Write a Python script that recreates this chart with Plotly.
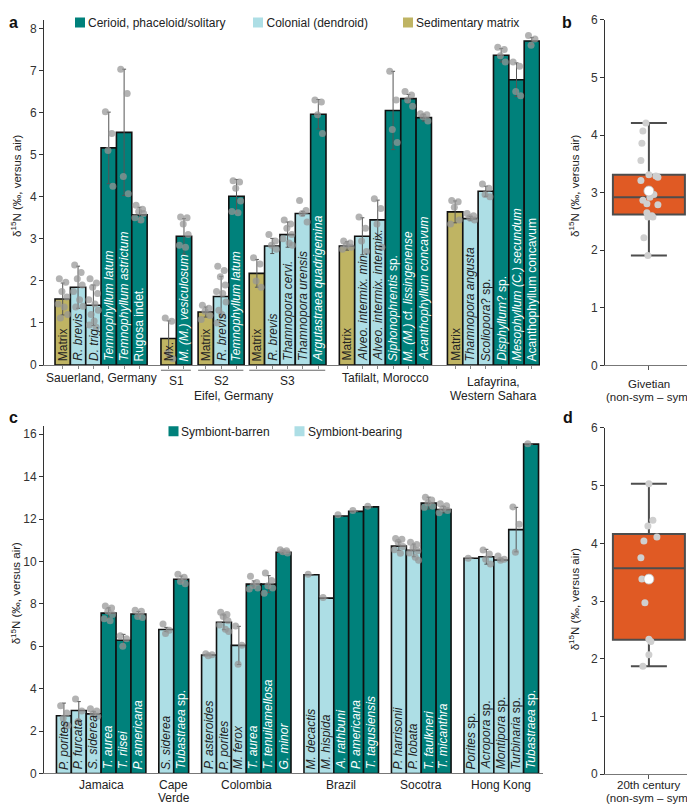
import plotly.graph_objects as go

# screen is 695x804; the page body adds an 8 px margin, so the figure is sized to the visible area
SCREEN_W, SCREEN_H, OFF = 695, 804, 8
W, H = SCREEN_W - OFF, SCREEN_H - OFF
FONT = "Liberation Sans, Arial, sans-serif"

# ---------------- Panel a data (Givetian corals) ----------------
a_groups = (["Sauerland, Germany"] * 6 + ["S1"] * 2 + ["S2"] * 3 + ["S3"] * 5
            + ["Tafilalt, Morocco"] * 6 + ["Lafayrina,<br>Western Sahara"] * 6)
a_labels = [
    "Matrix", "<i>R. brevis</i>", "<i>D. trig.</i>", "<i>Temnophyllum latum</i>",
    "<i>Temnophyllum astrictum</i>", "Rugosa indet.",
    "Mx.", "<i>M. (M.) vesiculosum</i>",
    "Matrix", "<i>R. brevis</i>", "<i>Temnophyllum latum</i>",
    "Matrix", "<i>R. brevis</i>", "<i>Thamnopora cervi.</i>", "<i>Thamnopora urensis</i>",
    "<i>Argutastraea quadrigemina</i>",
    "Matrix", "<i>Alveo. intermix. min.</i>", "<i>Alveo. intermix. intermix.</i>",
    "<i>Siphonophrentis</i> sp.", "<i>M. (M.)</i> cf. <i>lissingenense</i>", "<i>Acanthophyllum concavum</i>",
    "Matrix", "<i>Thamnopora angusta</i>", "<i>Scoliopora</i>? sp.", "<i>Disphyllum</i>? sp.",
    "<i>Mesophyllum (C.) secundum</i>", "Acanthophyllum concavum",
]
a_types = ["M", "C", "C", "S", "S", "S",
           "M", "S",
           "M", "C", "S",
           "M", "C", "C", "C", "S",
           "M", "C", "C", "S", "S", "S",
           "M", "C", "C", "S", "S", "S"]
a_means = [1.57, 1.85, 1.42, 5.16, 5.53, 3.57,
           0.63, 3.06,
           1.26, 1.63, 4.01,
           2.18, 2.83, 3.10, 3.60, 5.96,
           2.83, 3.06, 3.45, 6.05, 6.33, 5.88,
           3.64, 3.48, 4.13, 7.36, 6.78, 7.70]
a_sds = [0.38, 0.50, 0.48, 0.85, 1.50, 0.18,
         0.42, 0.42,
         0.12, 0.48, 0.40,
         0.33, 0.18, 0.30, 0.05, 0.35,
         0.10, 0.44, 0.47, 0.93, 0.10, 0.08,
         0.26, 0.05, 0.12, 0.16, 0.40, 0.08]
a_points = [
    [2.05, 1.97, 1.75, 1.62, 1.45, 1.38, 1.20, 1.12],
    [2.38, 2.20, 2.05, 1.90, 1.75, 1.55, 1.40, 1.38],
    [2.05, 1.95, 1.85, 1.70, 1.55, 1.45, 1.30, 1.20, 1.05, 0.95, 0.90],
    [6.02, 5.50, 5.10, 4.25],
    [7.03, 6.45, 4.48, 4.07],
    [3.80, 3.70, 3.65, 3.60, 3.50, 3.45],
    [1.12, 1.04, 0.30, 0.15],
    [3.52, 3.50, 3.35, 3.10, 2.85, 2.80],
    [1.42, 1.35, 1.28, 1.18, 1.08],
    [2.35, 2.25, 2.10, 1.90, 1.75, 1.70, 1.50, 1.30, 1.20, 1.00],
    [4.38, 4.35, 4.20, 3.90, 3.65, 3.62],
    [2.55, 2.40, 2.00, 1.85],
    [3.10, 2.95, 2.85, 2.75],
    [3.45, 3.35, 3.25, 3.10, 3.00, 2.90, 2.85],
    [3.91, 3.67, 3.60, 3.40],
    [6.30, 6.25, 5.95, 5.50],
    [2.95, 2.90, 2.85, 2.80, 2.75],
    [3.52, 3.25, 2.95, 2.70],
    [3.95, 3.72, 3.35, 2.80],
    [6.98, 6.30, 5.60, 5.29],
    [6.50, 6.42, 6.30, 6.15],
    [5.97, 5.95, 5.90, 5.80],
    [3.91, 3.88, 3.75, 3.45, 3.35],
    [3.60, 3.55, 3.50, 3.45],
    [4.30, 4.20, 4.05, 4.00],
    [7.55, 7.50, 7.35, 7.20],
    [7.20, 7.10, 6.50, 6.40],
    [7.83, 7.75, 7.60],
]
a_type_names = {"S": "Cerioid, phaceloid/solitary", "C": "Colonial (dendroid)", "M": "Sedimentary matrix"}

# ---------------- Panel b data (Givetian difference) ----------------
b_label = "Givetian<br>(non-sym – sym)"
b_points = [4.21, 4.07, 3.86, 3.56, 3.31, 3.29, 3.27, 3.21, 2.97, 2.92,
            2.87, 2.81, 2.79, 2.65, 2.60, 2.58, 2.58, 2.22, 1.91]
b_q1, b_median, b_q3, b_low, b_high, b_mean = 2.62, 2.92, 3.31, 1.91, 4.21, 3.03

# ---------------- Panel c data (modern corals) ----------------
c_groups = (["Jamaica"] * 6 + ["Cape<br>Verde"] * 2 + ["Colombia"] * 6 + ["Brazil"] * 5
            + ["Socotra"] * 4 + ["Hong Kong"] * 5)
c_labels = [
    "<i>P. porites</i>", "<i>P. furcata</i>", "<i>S. siderea</i>", "<i>T. aurea</i>", "<i>T. riisei</i>",
    "<i>P. americana</i>",
    "<i>S. siderea</i>", "<i>Tubastraea</i> sp.",
    "<i>P. asteroides</i>", "<i>P. porites</i>", "<i>M. ferox</i>", "<i>T. aurea</i>",
    "<i>T. tenuilamellosa</i>", "<i>G. minor</i>",
    "<i>M. decactis</i>", "<i>M. hispida</i>", "<i>A. rathbuni</i>", "<i>P. americana</i>",
    "<i>T. tagusiensis</i>",
    "<i>P. harrisonii</i>", "<i>P. lobata</i>", "<i>T. faulkneri</i>", "<i>T. micanthra</i>",
    "<i>Porites</i> sp.", "<i>Acropora</i> sp.", "<i>Montipora</i> sp.", "<i>Turbinaria</i> sp.",
    "<i>Tubastraea</i> sp.",
]
c_types = ["B", "B", "B", "N", "N", "N",
           "B", "N",
           "B", "B", "B", "N", "N", "N",
           "B", "B", "N", "N", "N",
           "B", "B", "N", "N",
           "B", "B", "B", "B", "N"]
c_means = [2.72, 2.97, 2.81, 7.56, 6.28, 7.52,
           6.79, 9.16,
           5.59, 7.13, 6.04, 8.93, 8.93, 10.43,
           9.37, 8.27, 12.14, 12.36, 12.57,
           10.72, 10.52, 12.75, 12.44,
           10.15, 10.22, 10.07, 11.50, 15.53]
c_sds = [0.60, 0.42, 0.12, 0.25, 0.28, 0.12,
         0.10, 0.15,
         0.03, 0.35, 0.90, 0.15, 0.40, 0.08,
         0.0, 0.0, 0.0, 0.0, 0.0,
         0.20, 0.30, 0.28, 0.15,
         0.0, 0.35, 0.05, 1.05, 0.0]
c_points = [
    [3.20, 2.85, 2.60, 2.26],
    [3.51, 2.95, 2.45],
    [3.05, 2.95, 2.80, 2.70],
    [7.90, 7.80, 7.65, 7.50, 7.30, 7.20],
    [6.50, 6.35, 6.00],
    [7.70, 7.65, 7.40, 7.35],
    [7.05, 6.75, 6.60],
    [9.40, 9.25, 9.05, 8.95],
    [5.65, 5.60, 5.55],
    [7.60, 7.50, 7.40, 7.20, 7.00, 6.80, 6.70],
    [6.95, 6.05, 5.15],
    [9.30, 9.00, 8.85, 8.75, 8.70],
    [9.45, 9.10, 8.85, 8.75, 8.50],
    [10.55, 10.50, 10.45, 10.40],
    [9.40],
    [8.30],
    [12.20],
    [12.40],
    [12.60],
    [11.08, 11.05, 10.90, 10.70, 10.55, 10.38],
    [10.90, 10.80, 10.65, 10.50, 10.40, 10.20, 10.05],
    [13.03, 12.90, 12.75, 12.60, 12.55],
    [12.72, 12.62, 12.50, 12.40, 12.30],
    [10.15],
    [10.54, 10.35, 10.10, 9.88],
    [10.25, 10.10, 10.05],
    [12.57, 11.75, 10.43],
    [15.55],
]
c_type_names = {"N": "Symbiont-barren", "B": "Symbiont-bearing"}

# ---------------- Panel d data (20th century difference) ----------------
d_label = "20th century<br>(non-sym – sym)"
d_points = [5.03, 4.40, 4.30, 4.11, 4.04, 3.75, 3.38, 2.97, 2.34, 2.30, 2.07, 1.87]
d_q1, d_median, d_q3, d_low, d_high, d_mean = 2.33, 3.57, 4.16, 1.87, 5.03, 3.38

# ---------------- styling / layout constants ----------------
COL = {"S": "#00817b", "C": "#addee5", "M": "#bfb463", "N": "#00817b", "B": "#addee5"}
TXT = {"S": "white", "N": "white", "C": "#222222", "B": "#222222", "M": "#222222"}
PT_COL = "rgba(150,150,150,0.72)"
BOX_FILL = "#e05a24"
BOX_LINE = "#4d4d4d"
JIT = [-0.22, 0.20, -0.05, 0.27, -0.30, 0.10, 0.32, -0.15, 0.05, -0.26, 0.18]
A_GAPS = {"S1": 0.9, "S2": 0.42, "S3": 0.33, "Tafilalt, Morocco": 0.87, "Lafayrina,<br>Western Sahara": 1.04}
C_GAP = 0.87
B_JIT_PX = [-3, -6, -7, -8, 0, 7, 9, -8, 5, 1, -6, -2, 9, -2, 3, -1, 4, -5, -1]
D_JIT_PX = [0, 4, -1, 8, -5, -8, -7, -4, 0, 2, 0, -6]


def px(p):
    """screen x pixel -> paper fraction"""
    return (p - OFF) / W


def py(p):
    """screen y pixel -> paper fraction"""
    return (SCREEN_H - p) / H


def positions(groups, gaps):
    xs, cur, prev = [], 0.0, None
    for g in groups:
        if prev is None:
            cur = 0.0
        elif g != prev:
            cur += 1.0 + (gaps[g] if isinstance(gaps, dict) else gaps)
        else:
            cur += 1.0
        xs.append(cur)
        prev = g
    return xs


a_x = positions(a_groups, A_GAPS)
c_x = positions(c_groups, C_GAP)

fig = go.Figure()
annotations = []
shapes = []


def add_bar_panel(xs, means, sds, types, labels, points, xa, ya, fsize):
    fig.add_trace(go.Bar(
        x=xs, y=means, width=1.0, xaxis=xa, yaxis=ya, showlegend=False, hoverinfo="skip",
        marker=dict(color=[COL[t] for t in types], line=dict(color="#111111", width=1.6)),
        error_y=dict(type="data", array=sds, symmetric=True, color="#555555", thickness=1, width=2),
    ))
    jx, jy = [], []
    for xpos, pts in zip(xs, points):
        for j, v in enumerate(pts):
            jx.append(xpos + JIT[j % len(JIT)])
            jy.append(v)
    fig.add_trace(go.Scatter(
        x=jx, y=jy, mode="markers", xaxis=xa, yaxis=ya, showlegend=False, hoverinfo="skip",
        marker=dict(size=7, color=PT_COL, line=dict(width=0)),
    ))
    for xpos, lab, t in zip(xs, labels, types):
        annotations.append(dict(
            x=xpos, y=0, xref=xa, yref=ya, text=lab, textangle=-90, showarrow=False,
            xanchor="center", yanchor="bottom", yshift=2,
            font=dict(size=fsize, color=TXT[t], family=FONT),
        ))


add_bar_panel(a_x, a_means, a_sds, a_types, a_labels, a_points, "x", "y", 12)
add_bar_panel(c_x, c_means, c_sds, c_types, c_labels, c_points, "x3", "y3", 12)

UNIT_BOX = 90 / 2.05


def add_box_panel(points, jit_px, q1, med, q3, low, high, mean, xa, ya):
    fig.add_trace(go.Box(
        x=[0], q1=[q1], median=[med], q3=[q3], lowerfence=[low], upperfence=[high],
        width=72 / UNIT_BOX, whiskerwidth=0.5, boxpoints=False, fillcolor=BOX_FILL,
        line=dict(color=BOX_LINE, width=2), xaxis=xa, yaxis=ya, showlegend=False, hoverinfo="skip",
    ))
    fig.add_trace(go.Scatter(
        x=[j / UNIT_BOX for j in jit_px], y=points, mode="markers", xaxis=xa, yaxis=ya,
        showlegend=False, hoverinfo="skip", marker=dict(size=7, color="#cfcfcf", line=dict(width=0)),
    ))
    fig.add_trace(go.Scatter(
        x=[0], y=[mean], mode="markers", xaxis=xa, yaxis=ya, showlegend=False, hoverinfo="skip",
        marker=dict(size=10, color="white", line=dict(width=0.8, color="#bbbbbb")),
    ))


add_box_panel(b_points, B_JIT_PX, b_q1, b_median, b_q3, b_low, b_high, b_mean, "x2", "y2")
add_box_panel(d_points, D_JIT_PX, d_q1, d_median, d_q3, d_low, d_high, d_mean, "x4", "y4")

# ---------------- legends ----------------
# each entry: a swatch-only legend (symbol centre ~20 px right of legend x) and a
# text-only legend (text starts ~40 px right of legend x), so swatch and text sit close together
legend_specs = [
    ("S", a_type_names["S"], 80, 88, 17.5),
    ("C", a_type_names["C"], 258, 266.5, 17.5),
    ("M", a_type_names["M"], 408, 416, 17.5),
    ("N", c_type_names["N"], 173.5, 181, 429),
    ("B", c_type_names["B"], 299.5, 308, 429),
]
legend_layout = {}
n_leg = 0
for t, name, sx, tx, ty in legend_specs:
    for kind in ("swatch", "text"):
        n_leg += 1
        lg = "legend" if n_leg == 1 else f"legend{n_leg}"
        fig.add_trace(go.Scatter(
            x=[None], y=[None], mode="markers", name=(name if kind == "text" else " "), legend=lg,
            marker=dict(symbol="square", size=10, color=(COL[t] if kind == "swatch" else "rgba(0,0,0,0)")),
            xaxis="x" if t in "SCM" else "x3", yaxis="y" if t in "SCM" else "y3",
        ))
        lx = (sx - 20) if kind == "swatch" else (tx - 40)
        legend_layout[lg] = dict(x=px(lx), y=py(ty), xanchor="left", yanchor="middle",
                                 bgcolor="rgba(0,0,0,0)", borderwidth=0, itemwidth=30,
                                 font=dict(size=12, color="#222222", family=FONT))


# ---------------- group labels ----------------
def group_span(groups, xs):
    out = {}
    for g, x in zip(groups, xs):
        out.setdefault(g, []).append(x)
    return {g: (min(v), max(v)) for g, v in out.items()}


LABFONT = dict(size=12, color="#222222", family=FONT)


def multiline(text, x, xref, y_first, spacing, font=LABFONT, xshift=0):
    for i, line in enumerate(text.split("<br>")):
        annotations.append(dict(x=x, y=py(y_first + i * spacing), xref=xref, yref="paper", text=line,
                                showarrow=False, xanchor="center", yanchor="middle", xshift=xshift,
                                font=font))


ga = group_span(a_groups, a_x)
for g, (lo, hi) in ga.items():
    if g in ("S1", "S2", "S3"):
        multiline(g, (lo + hi) / 2, "x", 378, 13)
        shapes.append(dict(type="line", xref="x", yref="paper", x0=lo - 0.5, x1=hi + 0.45,
                           y0=py(367.5), y1=py(367.5), line=dict(color="#666666", width=1)))
    elif g.startswith("Lafayrina"):
        multiline(g, (lo + hi) / 2, "x", 379.5, 13.5)
    else:
        multiline(g, (lo + hi) / 2, "x", 375.5, 13)
eifel_lo, eifel_hi = ga["S1"][0], ga["S3"][1]
multiline("Eifel, Germany", (eifel_lo + eifel_hi) / 2, "x", 393, 13, xshift=-10)

gc = group_span(c_groups, c_x)
for g, (lo, hi) in gc.items():
    multiline(g, (lo + hi) / 2, "x3", 785, 12.5)

# box-panel category labels
BOXLAB = dict(size=11.5, color="#222222", family=FONT)
multiline(b_label, px(649), "paper", 381.5, 13, font=BOXLAB)
multiline(d_label, px(649), "paper", 785, 13, font=BOXLAB)

# ---------------- axis titles & panel letters ----------------
ytitle = "δ<sup>15</sup>N (‰, versus air)"
for xp, yp in [(16, 182), (574, 182), (16, 592), (574, 598)]:
    annotations.append(dict(x=px(xp), y=py(yp), xref="paper", yref="paper", text=ytitle,
                            textangle=-90, showarrow=False, xanchor="center", yanchor="middle",
                            font=dict(size=11.5, color="#222222", family=FONT)))
for letter, xp, yp in [("a", 13, OFF), ("b", 567, OFF), ("c", 13, 405), ("d", 568, 405)]:
    annotations.append(dict(x=px(xp), y=py(yp), xref="paper", yref="paper", text=f"<b>{letter}</b>",
                            showarrow=False, xanchor="center", yanchor="top", borderpad=0,
                            font=dict(size=16, color="#111111", family=FONT)))

tickfont = dict(size=12, color="#333333", family=FONT)
yax = dict(showgrid=False, zeroline=False, showline=True, linecolor="#333333", linewidth=1,
           ticks="outside", ticklen=4, tickcolor="#333333", tickfont=tickfont, automargin=False)
xbar = dict(showgrid=False, zeroline=False, showline=True, linecolor="#777777", linewidth=1,
            showticklabels=False, automargin=False)

fig.update_layout(
    template="none",
    width=W, height=H, margin=dict(l=0, r=0, t=0, b=0, pad=0),
    paper_bgcolor="white", plot_bgcolor="white", barmode="overlay", boxmode="overlay",
    font=dict(family=FONT, color="#222222"),
    xaxis=dict(**xbar, domain=[px(44), px(540)], range=[-1.218, 31.09], anchor="y",
               tickvals=a_x, ticks="outside", ticklen=3, tickcolor="#888888"),
    yaxis=dict(**yax, domain=[py(362.3), py(15)], range=[0, 8.2], tickvals=list(range(0, 9)), anchor="x"),
    xaxis2=dict(**xbar, domain=[px(605), 1.0], range=[-1.0, 1.05], anchor="y2",
                tickvals=[0], ticks="outside", ticklen=4, tickcolor="#555555"),
    yaxis2=dict(**yax, domain=[py(362.7), py(15)], range=[0, 6], tickvals=list(range(0, 7)), anchor="x2"),
    xaxis3=dict(**xbar, domain=[px(44), px(543)], range=[-1.336, 32.15], anchor="y3", ticks=""),
    yaxis3=dict(**yax, domain=[py(773.3), py(423.3)], range=[0, 16.4], tickvals=list(range(0, 17, 2)), anchor="x3"),
    xaxis4=dict(**xbar, domain=[px(605), 1.0], range=[-1.0, 1.05], anchor="y4",
                tickvals=[0], ticks="outside", ticklen=4, tickcolor="#555555"),
    yaxis4=dict(**yax, domain=[py(774), py(425.5)], range=[0, 6], tickvals=list(range(0, 7)), anchor="x4"),
    annotations=annotations, shapes=shapes, **legend_layout,
)

fig.write_html("out.html")
